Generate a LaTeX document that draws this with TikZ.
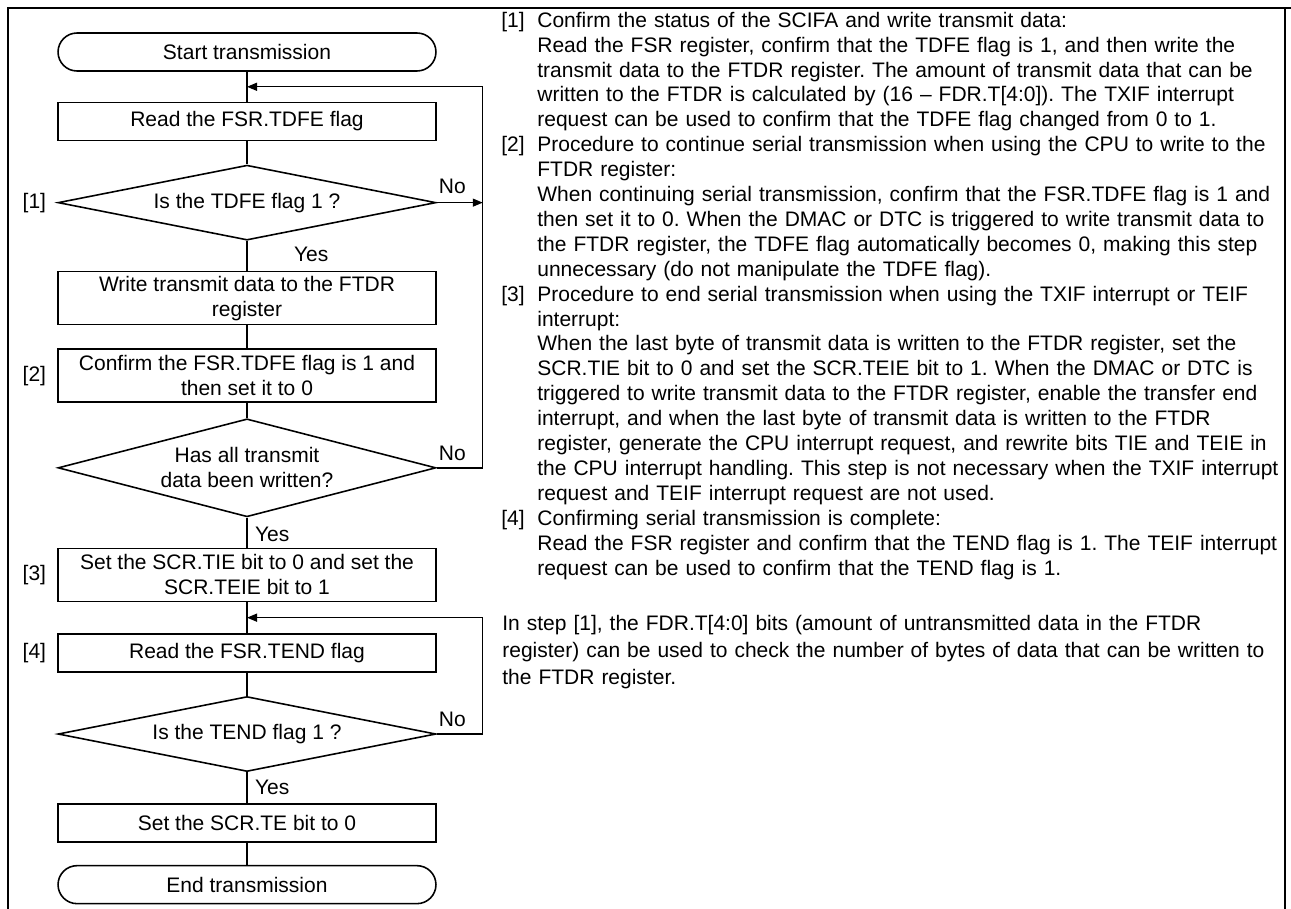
\documentclass[tikz,border=0pt]{standalone}
\usepackage{fontspec}
\setmainfont{Liberation Sans}
\usetikzlibrary{positioning, arrows.meta, calc, shapes.geometric}
\frenchspacing

\begin{document}
\begin{tikzpicture}[
        x=0.02cm, y=-0.02cm,
        font=\fontsize{11.95}{14.17}\selectfont,
        node distance=0.6cm,
        box/.style={rectangle, draw, line width=0.9pt, minimum width=7.56cm, minimum height=0.76cm, inner sep=2pt, align=center},
        tall/.style={box, minimum height=1.06cm},
        term/.style={box, rounded corners=0.38cm},
        decision/.style={diamond, draw, line width=0.9pt, aspect=4, inner sep=0pt, minimum width=7.56cm, minimum height=1.5cm, align=center},
        lbl/.style={inner sep=1pt},
        tag/.style={anchor=base west, inner sep=0pt},
        note/.style={anchor=base west, inner sep=0pt, text width=15.4cm, align=left},
        line/.style={line width=0.8pt},
        arrow/.style={line, -{Triangle[length=0.2cm, width=0.16cm]}}
    ]
        \useasboundingbox (0,0) rectangle (1291,909);

        % Frame
        \draw [line width=1.7pt] (8,909) -- (8,8) -- (1291,8);
        \draw [line width=0.6pt] (1285,8) -- (1285,909);

        % Flow
        \node (start) [term] at (247,52) {Start transmission};
        \node (readtdfe) [box, below=0.6cm of start] {Read the FSR.TDFE flag};
        \node (istdfe) [decision, below=0.46cm of readtdfe] {Is the TDFE flag 1 ?};
        \node (write) [tall, below=0.6cm of istdfe] {Write transmit data to the FTDR\\register};
        \node (confirm) [tall, below=0.46cm of write] {Confirm the FSR.TDFE flag is 1 and\\then set it to 0};
        \node (alldone) [decision, minimum height=1.96cm, below=0.3cm of confirm] {Has all transmit\\data been written?};
        \node (settie) [tall, below=0.6cm of alldone] {Set the SCR.TIE bit to 0 and set the\\SCR.TEIE bit to 1};
        \node (readtend) [box, below=0.62cm of settie] {Read the FSR.TEND flag};
        \node (istend) [decision, below=0.46cm of readtend] {Is the TEND flag 1 ?};
        \node (sette) [box, below=0.62cm of istend] {Set the SCR.TE bit to 0};
        \node (finish) [term, below=0.44cm of sette] {End transmission};

        % Step marks
        \node (mark1) [left=0.1cm of istdfe.west] {[1]};
        \node (mark2) [left=0.1cm of confirm.west] {[2]};
        \node (mark3) [left=0.1cm of settie.west] {[3]};
        \node (mark4) [left=0.1cm of readtend.west] {[4]};

        % Branch labels
        \node (no1) [lbl, above right=0.13cm and 0cm of istdfe.east] {No};
        \node (yes1) [lbl, below right=0.08cm and 0.9cm of istdfe.south] {Yes};
        \node (no2) [lbl, above right=0.1cm and 0cm of alldone.east] {No};
        \node (yes2) [lbl, below right=0.15cm and 0.12cm of alldone.south] {Yes};
        \node (no3) [lbl, above right=0.1cm and 0cm of istend.east] {No};
        \node (yes3) [lbl, below right=0.11cm and 0.12cm of istend.south] {Yes};

        % Connectors
        \draw [line] (start) -- (readtdfe);
        \draw [line] (readtdfe) -- (istdfe);
        \draw [line] (istdfe) -- (write);
        \draw [line] (write) -- (confirm);
        \draw [line] (confirm) -- (alldone);
        \draw [line] (alldone) -- (settie);
        \draw [line] (settie) -- (readtend);
        \draw [line] (readtend) -- (istend);
        \draw [line] (istend) -- (sette);
        \draw [line] (sette) -- (finish);

        % Loops back
        \coordinate (join1) at ($(start.south)!0.5!(readtdfe.north)$);
        \coordinate (join2) at ($(settie.south)!0.5!(readtend.north)$);
        \coordinate (rail) at ([xshift=0.92cm]istdfe.east);
        \draw [arrow] (istdfe.east) -- (rail);
        \draw [arrow] (alldone.east) -- (alldone.east -| rail) -- (rail |- join1) -- (join1);
        \draw [arrow] (istend.east) -- (istend.east -| rail) -- (rail |- join2) -- (join2);

        % Notes on the side
        \node (tag1) [tag] at (501,27.3) {[1]};
        \node (note1) [note] at (537,27.3) {Confirm the status of the SCIFA and write transmit data:\\
            Read the FSR register, confirm that the TDFE flag is 1, and then write the\\
            transmit data to the FTDR register. The amount of transmit data that can be\\
            written to the FTDR is calculated by (16 – FDR.T[4:0]). The TXIF interrupt\\
            request can be used to confirm that the TDFE flag changed from 0 to 1.};
        \node (tag2) [tag] at (501,151.8) {[2]};
        \node (note2) [note] at (537,151.8) {Procedure to continue serial transmission when using the CPU to write to the\\
            FTDR register:\\
            When continuing serial transmission, confirm that the FSR.TDFE flag is 1 and\\
            then set it to 0. When the DMAC or DTC is triggered to write transmit data to\\
            the FTDR register, the TDFE flag automatically becomes 0, making this step\\
            unnecessary (do not manipulate the TDFE flag).};
        \node (tag3) [tag] at (501,301.2) {[3]};
        \node (note3) [note] at (537,301.2) {Procedure to end serial transmission when using the TXIF interrupt or TEIF\\
            interrupt:\\
            When the last byte of transmit data is written to the FTDR register, set the\\
            SCR.TIE bit to 0 and set the SCR.TEIE bit to 1. When the DMAC or DTC is\\
            triggered to write transmit data to the FTDR register, enable the transfer end\\
            interrupt, and when the last byte of transmit data is written to the FTDR\\
            register, generate the CPU interrupt request, and rewrite bits TIE and TEIE in\\
            the CPU interrupt handling. This step is not necessary when the TXIF interrupt\\
            request and TEIF interrupt request are not used.};
        \node (tag4) [tag] at (501,525.3) {[4]};
        \node (note4) [note] at (537,525.3) {Confirming serial transmission is complete:\\
            Read the FSR register and confirm that the TEND flag is 1. The TEIF interrupt\\
            request can be used to confirm that the TEND flag is 1.};

        \node (remark) [note, font=\fontsize{11.95}{15.36}\selectfont] at (502,630.5) {In step [1], the FDR.T[4:0] bits (amount of untransmitted data in the FTDR\\
            register) can be used to check the number of bytes of data that can be written to\\
            the FTDR register.};
    \end{tikzpicture}
\end{document}
